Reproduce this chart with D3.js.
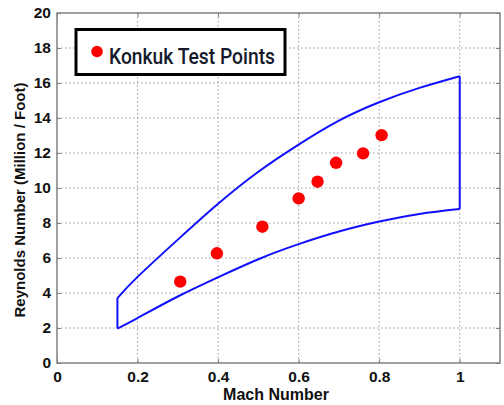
<!DOCTYPE html>
<html>
<head>
<meta charset="utf-8">
<script src="https://cdn.jsdelivr.net/npm/d3@7"></script>
<style>
  html, body { margin: 0; padding: 0; background: #fff; }
  svg { display: block; }
</style>
</head>
<body>
<svg id="chart" width="504" height="405"></svg>
<script>
// Konkuk wind tunnel test points inside the facility operating envelope
const testMach = [0.306, 0.397, 0.510, 0.600, 0.647, 0.693, 0.760, 0.806];
const testRe   = [4.65, 6.27, 7.79, 9.41, 10.36, 11.44, 11.98, 13.02];

// Envelope boundaries (Reynolds number per foot, millions)
const envMach    = [0.15, 0.2, 0.3, 0.4, 0.5, 0.6, 0.7, 0.8, 0.9, 1.0];
const envUpperRe = [3.71, 4.92, 7.05, 9.10, 10.93, 12.48, 13.85, 14.90, 15.72, 16.39];
const envLowerRe = [1.97, 2.57, 3.80, 4.90, 5.93, 6.79, 7.51, 8.08, 8.52, 8.80];

const xTicks = [0, 0.2, 0.4, 0.6, 0.8, 1];
const yTicks = [0, 2, 4, 6, 8, 10, 12, 14, 16, 18, 20];
const xDomain = [0, 1.1];
const yDomain = [0, 20];

const legendLabel = "Konkuk Test Points";
const xTitle = "Mach Number";
const yTitle = "Reynolds Number (Million / Foot)";

const svg = d3.select("#chart");
const plot = { left: 57, right: 500, top: 13, bottom: 363 };

const x = d3.scaleLinear().domain(xDomain).range([plot.left, plot.right]);
const y = d3.scaleLinear().domain(yDomain).range([plot.bottom, plot.top]);

const frameColor = "#808080";
const gridColor = "#9a9a9a";
const labelFont = "'Liberation Sans', Arial, sans-serif";

// Dotted grid
const grid = svg.append("g");
grid.selectAll("line.gx")
  .data(xTicks.filter(d => d > xDomain[0] && d < xDomain[1]))
  .join("line")
  .attr("x1", d => x(d)).attr("x2", d => x(d))
  .attr("y1", plot.top).attr("y2", plot.bottom)
  .attr("stroke", gridColor).attr("stroke-width", 1)
  .attr("stroke-dasharray", "1.5,2.5");
grid.selectAll("line.gy")
  .data(yTicks.filter(d => d > yDomain[0] && d < yDomain[1]))
  .join("line")
  .attr("y1", d => y(d)).attr("y2", d => y(d))
  .attr("x1", plot.left).attr("x2", plot.right)
  .attr("stroke", gridColor).attr("stroke-width", 1)
  .attr("stroke-dasharray", "1.5,2.5");

// Axes with inward ticks
const xAxis = d3.axisBottom(x).tickValues(xTicks).tickFormat(d3.format("~g")).tickSizeInner(-4).tickSizeOuter(0).tickPadding(8);
const yAxis = d3.axisLeft(y).tickValues(yTicks).tickFormat(d3.format("~g")).tickSizeInner(-4).tickSizeOuter(0).tickPadding(6);
const xTop = d3.axisTop(x).tickValues(xTicks).tickFormat("").tickSizeInner(-4).tickSizeOuter(0);
const yRight = d3.axisRight(y).tickValues(yTicks).tickFormat("").tickSizeInner(-4).tickSizeOuter(0);

function styleAxis(g) {
  g.select(".domain").remove();
  g.selectAll(".tick line").attr("stroke", frameColor);
  g.selectAll(".tick text")
    .attr("fill", "#111")
    .style("font-family", labelFont)
    .style("font-weight", "bold")
    .style("font-size", "15.5px");
}

svg.append("g").attr("transform", `translate(0,${plot.bottom})`).call(xAxis).call(styleAxis);
svg.append("g").attr("transform", `translate(${plot.left},0)`).call(yAxis).call(styleAxis);
svg.append("g").attr("transform", `translate(0,${plot.top})`).call(xTop).call(styleAxis);
svg.append("g").attr("transform", `translate(${plot.right},0)`).call(yRight).call(styleAxis);

// Frame
svg.append("rect")
  .attr("x", plot.left).attr("y", plot.top)
  .attr("width", plot.right - plot.left).attr("height", plot.bottom - plot.top)
  .attr("fill", "none").attr("stroke", frameColor).attr("stroke-width", 1.5);

// Envelope
const env = svg.append("g").attr("fill", "none").attr("stroke", "#1010ff").attr("stroke-width", 2);
const curve = d3.line().x(d => x(d[0])).y(d => y(d[1])).curve(d3.curveNatural);
env.append("path").attr("d", curve(envMach.map((m, i) => [m, envUpperRe[i]])));
env.append("path").attr("d", curve(envMach.map((m, i) => [m, envLowerRe[i]])));
const last = envMach.length - 1;
const straight = d3.line().x(d => x(d[0])).y(d => y(d[1]));
env.append("path").attr("d", straight([[envMach[0], envLowerRe[0]], [envMach[0], envUpperRe[0]]]));
env.append("path").attr("d", straight([[envMach[last], envLowerRe[last]], [envMach[last], envUpperRe[last]]]));

// Test points
svg.append("g").selectAll("circle")
  .data(testMach.map((m, i) => [m, testRe[i]]))
  .join("circle")
  .attr("cx", d => x(d[0])).attr("cy", d => y(d[1]))
  .attr("r", 6.2).attr("fill", "#ff0000");

// Legend
const legend = svg.append("g");
legend.append("rect")
  .attr("x", 76).attr("y", 29.5).attr("width", 209).attr("height", 45)
  .attr("fill", "#fff").attr("stroke", "#000").attr("stroke-width", 3);
legend.append("circle").attr("cx", 97).attr("cy", 51.5).attr("r", 5.8).attr("fill", "#ff0000");
legend.append("text")
  .attr("x", 109).attr("y", 63.5)
  .attr("textLength", 166).attr("lengthAdjust", "spacingAndGlyphs")
  .attr("fill", "#141a2a")
  .style("font-family", "Roboto, 'Noto Sans', sans-serif")
  .style("font-weight", 500)
  .style("font-size", "22px")
  .text(legendLabel);

// Axis titles
svg.append("text")
  .attr("x", 276).attr("y", 400)
  .attr("text-anchor", "middle")
  .attr("fill", "#111")
  .style("font-family", labelFont).style("font-weight", "bold").style("font-size", "16px")
  .text(xTitle);
svg.append("text")
  .attr("transform", "translate(25,200) rotate(-90)")
  .attr("text-anchor", "middle")
  .attr("fill", "#111")
  .style("font-family", labelFont).style("font-weight", "bold").style("font-size", "15px")
  .text(yTitle);
</script>
</body>
</html>
